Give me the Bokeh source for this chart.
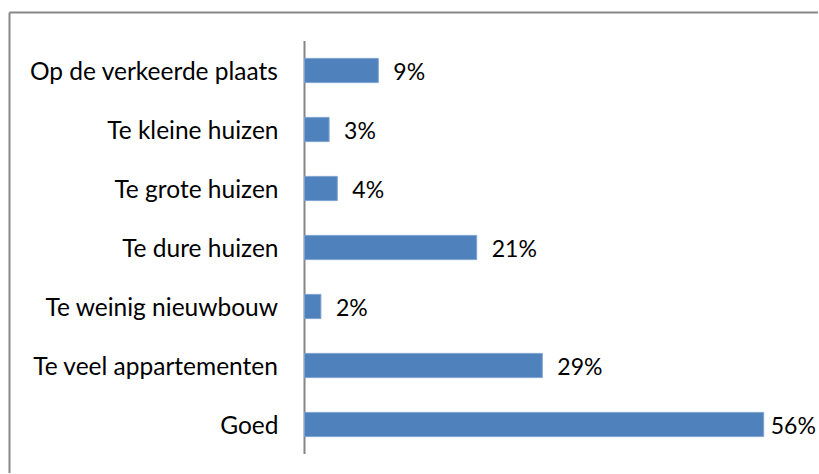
from bokeh.plotting import figure
from bokeh.models import ColumnDataSource, Range1d, FixedTicker
from bokeh.core.properties import value
from bokeh.embed import file_html
from bokeh.resources import INLINE

categories = ["Goed", "Te veel appartementen", "Te weinig nieuwbouw", "Te dure huizen",
              "Te grote huizen", "Te kleine huizen", "Op de verkeerde plaats"]
values = [56, 29, 2, 21, 4, 3, 9]
labels = [f"{v}%" for v in values]

pos = list(range(len(categories)))
offs = [7 if v == max(values) else 15 for v in values]
src = ColumnDataSource(dict(pos=pos, val=values, lab=labels, off=offs))

FONT = "Lato"
FS = "24.5px"
FS_VAL = "23px"
GRAY = "#878787"

# pixel layout (page coords, canvas origin at page (1,1))
PX_PER_PCT = 8.2
BAND = 59.0
frame_left, frame_top, frame_right, frame_bottom = 10, 13, 819, 474
zero_x, first_center_y = 305, 425

x0 = -(zero_x - frame_left) / PX_PER_PCT
x1 = (frame_right - zero_x) / PX_PER_PCT
y0 = -(frame_bottom - first_center_y) / BAND
y1 = (first_center_y - frame_top) / BAND

p = figure(x_range=Range1d(x0, x1), y_range=Range1d(y0, y1), width=818, height=473,
           output_backend="svg", toolbar_location=None, x_axis_location="above",
           min_border_left=frame_left - 1, min_border_right=0,
           min_border_top=frame_top - 1, min_border_bottom=0)

# value axis line at x=0
p.segment(x0=[0], y0=[-0.5], x1=[0], y1=[len(categories) - 0.5],
          line_color="#868686", line_width=2)

p.hbar(y="pos", right="val", left=0, height=0.41, source=src,
       fill_color="#4F81BD", line_color="#7FA3D0", line_width=1)
p.text(x="val", y="pos", text="lab", source=src, x_offset="off",
       text_baseline="middle", text_align="left",
       text_font=value(FONT), text_font_size=FS_VAL, text_color="#000000")

p.xgrid.visible = False
p.ygrid.visible = False
p.outline_line_color = None

# top axis = top chart border
tx = p.xaxis[0]
tx.ticker = FixedTicker(ticks=[])
tx.axis_line_color = GRAY
tx.axis_line_width = 2
tx.major_tick_line_color = None
tx.minor_tick_line_color = None
tx.major_label_text_font_size = "0px"

# left axis = left chart border + category labels pulled inside
ax = p.yaxis[0]
ax.ticker = FixedTicker(ticks=pos)
ax.major_label_overrides = {i: c for i, c in zip(pos, categories)}
ax.axis_line_color = GRAY
ax.axis_line_width = 2
ax.major_tick_line_color = None
ax.minor_tick_line_color = None
ax.major_tick_in = 0
ax.major_tick_out = 0
ax.major_label_text_font = FONT
ax.major_label_text_font_size = FS
ax.major_label_text_color = "#000000"
ax.major_label_standoff = -(279 - frame_left)

open("out.html", "w").write(file_html(p, INLINE))
